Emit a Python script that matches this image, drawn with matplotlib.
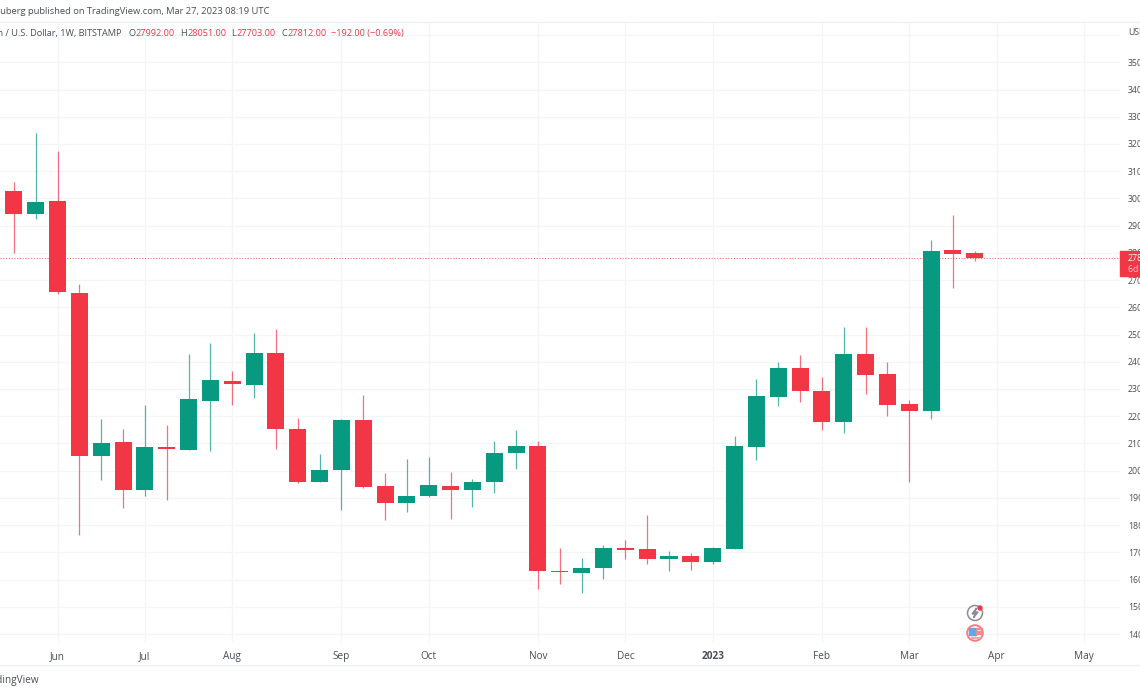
import numpy as np
import matplotlib
matplotlib.use('Agg')
import matplotlib.pyplot as plt
from matplotlib.patches import Circle, Rectangle, Polygon

# weekly BTC/USD candles
opens = [30260, 29420, 29900, 26520, 20540, 21060, 19300, 20860, 20770, 22570,
         23290, 23160, 24320, 21520, 19570, 20010, 21850, 19430, 18800, 19070,
         19430, 19280, 19570, 20640, 20900, 16320, 16240, 16420, 17160, 17120,
         16740, 16850, 16630, 17120, 20870, 22690, 23760, 22940, 21770, 24280,
         23550, 22440, 22190, 28090, 27992]
highs = [30610, 32390, 31730, 26850, 21880, 21520, 22410, 21660, 24280, 24680,
         23650, 25050, 25190, 21920, 20600, 21880, 22790, 19900, 20420, 20490,
         19960, 19700, 21080, 21490, 21080, 17150, 16780, 17260, 17440, 18380,
         17060, 16960, 17180, 21260, 23380, 23980, 24260, 23430, 25260, 25260,
         24000, 22580, 28470, 29380, 28051]
lows = [28000, 29230, 26500, 17620, 19650, 18630, 19070, 18920, 20770, 20710,
        22420, 22680, 20790, 19530, 19570, 18560, 19350, 18190, 18470, 19020,
        18210, 18670, 19180, 20070, 15650, 15830, 15510, 16030, 16760, 16590,
        16320, 16360, 16590, 17120, 20390, 22360, 22530, 21480, 21390, 22800,
        22010, 19590, 21910, 26710, 27703]
closes = [29420, 29880, 26560, 20540, 21030, 19300, 20880, 20800, 22620, 23330,
          23180, 24320, 21520, 19570, 20020, 21850, 19410, 18800, 19060, 19460,
          19280, 19580, 20640, 20900, 16300, 16260, 16430, 17150, 17090, 16740,
          16850, 16630, 17150, 20900, 22730, 23760, 22920, 21770, 24280, 23530,
          22420, 22190, 28060, 27970, 27812]

month_pos = [2, 6, 10, 15, 19, 24, 28, 32, 37, 41, 45, 49]
month_labels = ['Jun', 'Jul', 'Aug', 'Sep', 'Oct', 'Nov', 'Dec', '2023', 'Feb', 'Mar', 'Apr', 'May']
price_ticks = list(range(14000, 36000, 1000))
last_price = 27812

GREEN = '#089981'
RED = '#f23645'
GRID = '#f3f5f9'
TEXT = '#4a4d57'

plt.rcParams['font.family'] = ['Open Sans', 'DejaVu Sans']

fig = plt.figure(figsize=(11.4, 6.94), dpi=100)
ax = fig.add_axes([0, 51 / 694, 1120 / 1140, 621 / 694])

opens_a = np.array(opens)
closes_a = np.array(closes)
idx = np.arange(len(opens))
colors = [GREEN if c >= o else RED for o, c in zip(opens, closes)]

ax.vlines(idx, lows, highs, colors=colors, linewidth=0.9, alpha=0.7, zorder=3)
ax.bar(idx, np.abs(closes_a - opens_a), bottom=np.minimum(opens_a, closes_a),
       width=0.78, color=colors, zorder=4)
ax.axhline(last_price, color=RED, linewidth=0.8, linestyle=(0, (1, 1.5)), alpha=0.7, zorder=2)

ax.set_xlim(-0.633, 50.65)
ax.set_ylim(13670, 36480)
ax.set_xticks(month_pos)
ax.set_xticklabels(month_labels, fontsize=7.2, color=TEXT)
ax.get_xticklabels()[7].set_fontweight('bold')
ax.yaxis.tick_right()
ax.set_yticks(price_ticks + [36000])
ax.set_yticklabels([str(p) for p in price_ticks] + [''], fontsize=6.3, color=TEXT)
ax.tick_params(axis='x', length=0, pad=6)
ax.tick_params(axis='y', length=0, pad=5.6)
ax.grid(True, color=GRID, linewidth=0.9, zorder=0)
ax.set_axisbelow(True)
for s in ax.spines.values():
    s.set_visible(False)

# overlay in pixel coordinates for the TradingView chrome
ov = fig.add_axes([0, 0, 1, 1], zorder=5)
ov.set_xlim(0, 1140)
ov.set_ylim(694, 0)
ov.axis('off')
ov.patch.set_alpha(0)

ov.plot([0, 1140], [21.5, 21.5], color='#eef0f4', linewidth=1)
ov.plot([0, 1140], [665, 665], color='#eef0f4', linewidth=1)

ov.text(269, 11.5, 'William_Suberg published on TradingView.com, Mar 27, 2023 08:19 UTC',
        ha='right', va='center', fontsize=6.75, color=TEXT)
ov.text(122, 33, 'Bitcoin / U.S. Dollar, 1W, BITSTAMP', ha='right', va='center',
        fontsize=6.6, color=TEXT)
for x, s, c in [(128.5, 'O', TEXT), (135.5, '27992.00', RED), (180, 'H', TEXT), (187, '28051.00', RED),
                (231, 'L', TEXT), (236.5, '27703.00', RED), (281, 'C', TEXT), (287, '27812.00', RED),
                (331, '−192.00 (−0.69%)', RED)]:
    ov.text(x, 33, s, ha='left', va='center', fontsize=6.6, color=c)

ov.text(1128, 32, 'USD', ha='left', va='center', fontsize=6.3, color=TEXT)
ov.text(39, 680, 'TradingView', ha='right', va='center', fontsize=7.2, color=TEXT)

# last price tag
ov.add_patch(Rectangle((1120, 251), 22, 25, color=RED, zorder=6))
ov.text(1128, 258, str(last_price), ha='left', va='center', fontsize=6.3, color='white', zorder=7)
ov.text(1128, 269, '6d 15h', ha='left', va='center', fontsize=6.3, color='#fbc4c9', zorder=7)

# event icons under the last candle
ov.add_patch(Circle((975, 613), 7.5, fill=False, edgecolor='#8a8d96', linewidth=1.1))
ov.add_patch(Polygon([(976.5, 608), (972, 614), (975, 614), (973.5, 618), (978, 612), (975, 612)],
                     closed=True, color='#8a8d96'))
ov.add_patch(Circle((980, 608), 2, color=RED))
ov.add_patch(Circle((975, 633), 7.8, facecolor='white', edgecolor='#f77c80', linewidth=1.4))
ov.add_patch(Rectangle((968.5, 627.5), 7, 7, color='#64a6e8', zorder=3))
for y in [628, 630.5, 633]:
    ov.add_patch(Rectangle((975.5, y), 6, 1.4, color='#f48a8d', zorder=3))
ov.add_patch(Rectangle((970.5, 636.5), 9, 1.3, color='#f9a5a8', zorder=3))

fig.savefig('out.png', dpi=100)
